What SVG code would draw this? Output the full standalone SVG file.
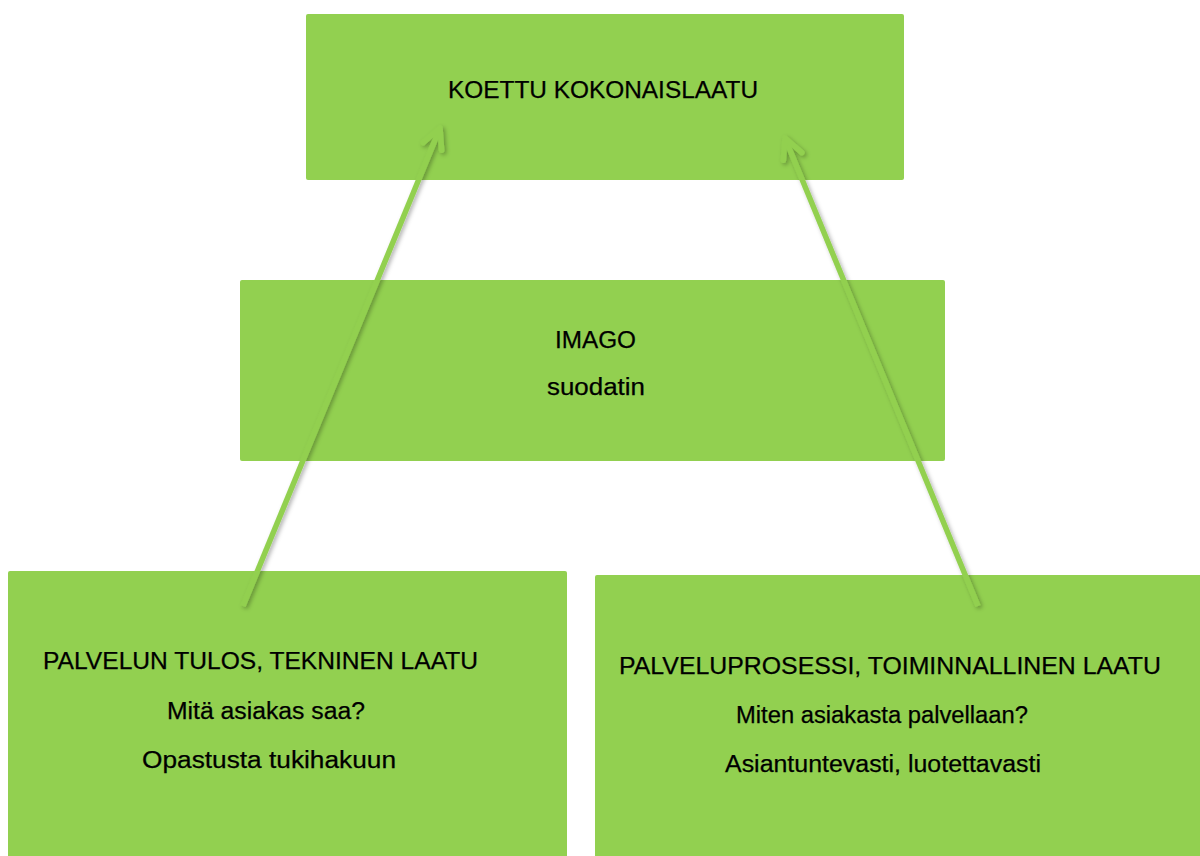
<svg xmlns="http://www.w3.org/2000/svg" width="1200" height="856" viewBox="0 0 1200 856">
  <style>
    .box { fill: #92D050; }
    .lbl { font-family: "Liberation Sans", "DejaVu Sans", sans-serif; font-size: 23.5px; fill: #000; stroke: #000; stroke-width: 0.25px; }
    .conn { fill: none; stroke: #92D050; stroke-width: 5.5; }
  </style>
  <defs>
    <filter id="sh" x="-20%" y="-20%" width="140%" height="140%">
      <feDropShadow dx="2" dy="2" stdDeviation="2" flood-color="#000" flood-opacity="0.3"/>
    </filter>
    <marker id="arr" markerUnits="userSpaceOnUse" viewBox="-25 -15 30 30" markerWidth="30" markerHeight="30" refX="0" refY="0" orient="auto">
      <path d="M-20,-10 L0,0 L-20,10" fill="none" stroke="#92D050" stroke-width="5.5" stroke-linecap="round" stroke-linejoin="round"/>
    </marker>
  </defs>
  <rect width="1200" height="856" fill="#fff"/>

  <g id="node-koettu">
    <rect class="box" x="306" y="14" width="598" height="166" rx="2"/>
    <text class="lbl" x="448" y="98" textLength="310" lengthAdjust="spacingAndGlyphs">KOETTU KOKONAISLAATU</text>
  </g>

  <g id="node-imago">
    <rect class="box" x="240" y="280" width="705" height="181" rx="2"/>
    <text class="lbl" x="555" y="348" textLength="81" lengthAdjust="spacingAndGlyphs">IMAGO</text>
    <text class="lbl" x="547" y="395" textLength="98" lengthAdjust="spacingAndGlyphs">suodatin</text>
  </g>

  <g id="node-tulos">
    <rect class="box" x="8" y="571" width="559" height="290" rx="2"/>
    <text class="lbl" x="43" y="669" textLength="435" lengthAdjust="spacingAndGlyphs">PALVELUN TULOS, TEKNINEN LAATU</text>
    <text class="lbl" x="167" y="719" textLength="198" lengthAdjust="spacingAndGlyphs">Mitä asiakas saa?</text>
    <text class="lbl" x="142" y="768" textLength="254" lengthAdjust="spacingAndGlyphs">Opastusta tukihakuun</text>
  </g>

  <g id="node-prosessi">
    <rect class="box" x="595" y="575" width="610" height="290" rx="2"/>
    <text class="lbl" x="619" y="674" textLength="542" lengthAdjust="spacingAndGlyphs">PALVELUPROSESSI, TOIMINNALLINEN LAATU</text>
    <text class="lbl" x="736" y="723" textLength="292" lengthAdjust="spacingAndGlyphs">Miten asiakasta palvellaan?</text>
    <text class="lbl" x="725" y="772" textLength="316" lengthAdjust="spacingAndGlyphs">Asiantuntevasti, luotettavasti</text>
  </g>

  <g id="connectors" filter="url(#sh)">
    <path class="conn" d="M243,606 L440,128" marker-end="url(#arr)"/>
    <path class="conn" d="M978,606 L785,138" marker-end="url(#arr)"/>
  </g>
</svg>
